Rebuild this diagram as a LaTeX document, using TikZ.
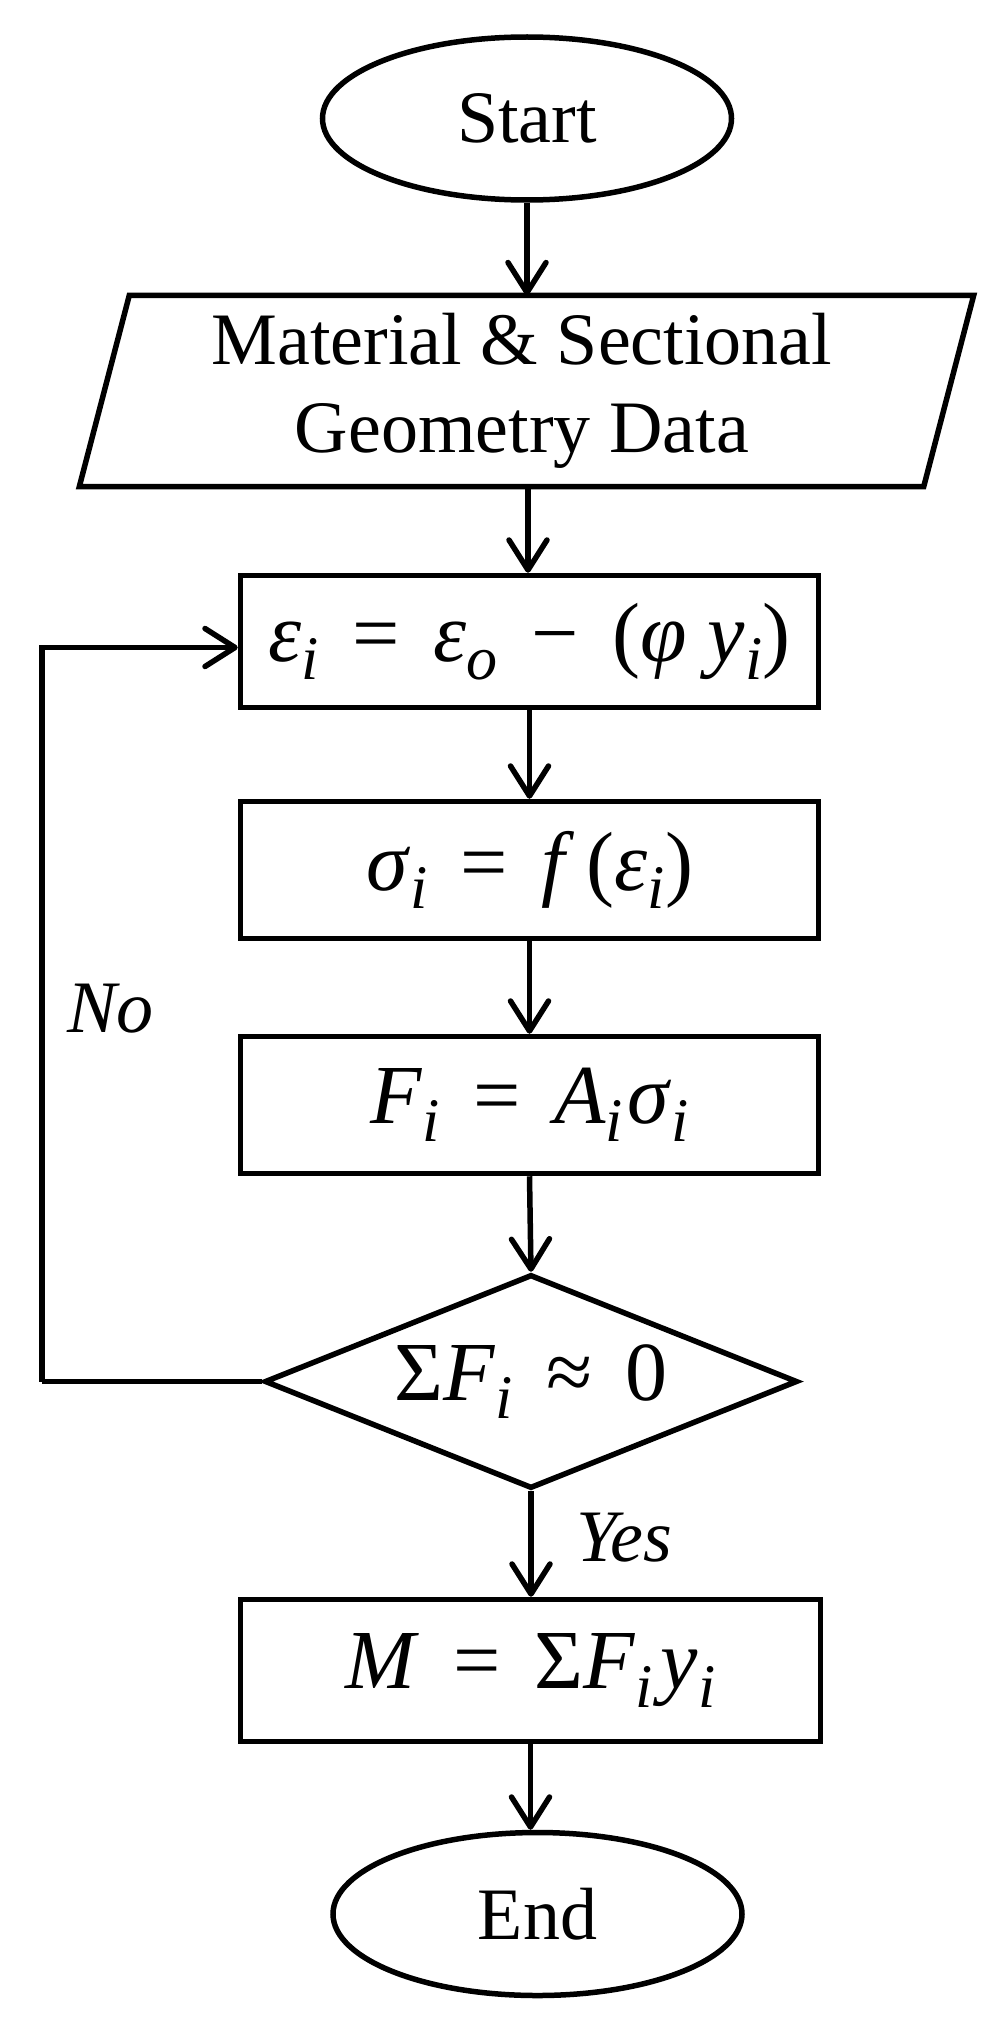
\documentclass[tikz,border=0pt]{standalone}
\usepackage{fontspec}
\setmainfont{Liberation Serif}
\usetikzlibrary{arrows.meta,shapes.geometric}
\newcommand{\sbx}[1]{\raisebox{-0.22em}{\fontsize{62}{62}\selectfont\itshape #1}}
\newcommand{\opx}[1]{\hspace{0.4em}#1\hspace{0.4em}}
\newcommand{\vx}[1]{\textit{#1}}
\tikzset{
  base/.style={draw, line width=5.5pt, inner sep=0pt, font=\fontsize{74}{88}\selectfont},
  proc/.style={base, rectangle, minimum width=578pt, minimum height=137pt, font=\fontsize{84}{88}\selectfont},
  term/.style={base, ellipse, minimum width=409pt, minimum height=163pt},
  io/.style={inner sep=0pt, align=center, font=\fontsize{74}{88}\selectfont, minimum width=844pt, minimum height=191pt},
  decis/.style={base, diamond, shape aspect=2.5, inner sep=-8pt, minimum width=533pt, minimum height=214pt, font=\fontsize{84}{88}\selectfont},
  arr/.style={line width=5.5pt, -{Straight Barb[length=30pt,width=38pt,round]}},
  lbl/.style={inner sep=0pt, anchor=base west, font=\fontsize{74}{88}\selectfont\itshape}
}
\begin{document}
\begin{tikzpicture}[x=1pt,y=-1pt]
\useasboundingbox[fill=white] (0,0) rectangle (1002,2028);
\node[term] (start) at (527,118.5) {Start};
\node[io] (data) at (522,391) {Material \& Sectional\\Geometry Data};
\draw[line width=5.5pt, line join=miter]
  ([xshift=29.5pt]data.north west) -- ([xshift=29.5pt]data.north east) --
  ([xshift=-20.5pt]data.south east) -- ([xshift=-20.5pt]data.south west) -- cycle;
\coordinate (ds) at ([xshift=6pt]data.south);
\node[proc, minimum height=132pt] (b1) at (529.5,641.5) {\vx{ε}\sbx{i}\opx{=}\vx{ε}\sbx{o}\opx{−}(\vx{φ}\hspace{0.25em}\vx{y}\sbx{i})};
\node[proc] (b2) at (529.5,870) {\vx{σ}\sbx{i}\opx{=}\vx{f}\hspace{0.14em}(\vx{ε}\sbx{i})};
\node[proc] (b3) at (529.5,1105) {\vx{F}\sbx{i}\opx{=}\vx{A}\sbx{i}\hspace{0.05em}\vx{σ}\sbx{i}};
\node[decis] (dec) at (531,1381.5) {Σ\vx{F}\sbx{i}\opx{≈}0};
\node[proc, minimum width=580pt, minimum height=142pt] (b4) at (530.5,1670.5) {\vx{M}\opx{=}Σ\vx{F}\sbx{i}\hspace{0.1em}\vx{y}\sbx{i}};
\node[term] (end) at (537.5,1914) {End};
\coordinate (lp) at (42,1381.5);
\node[lbl] (no) at (67,1032) {No};
\node[lbl] (yes) at (576,1561) {Yes};
\draw[arr] (start) -- (data.north -| start);
\draw[arr] (ds) -- (b1.north -| ds);
\draw[arr] (b1) -- (b2);
\draw[arr] (b2) -- (b3);
\draw[arr] (b3.south) -- (dec.north);
\draw[arr] (dec.south) -- (b4.north -| dec.south);
\draw[arr] (b4.south) -- (end.north -| b4.south);
\draw[line width=5.5pt, line join=miter] (dec.west) -- (lp);
\draw[arr, line join=miter] (lp) |- ([yshift=-6pt]b1.west);
\end{tikzpicture}
\end{document}
